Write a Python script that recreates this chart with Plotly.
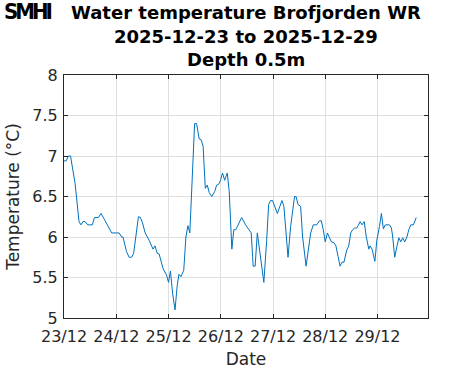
import pandas as pd
import plotly.graph_objects as go

# hours since 2025-12-23 00:00 and water temperature (°C)
hours = [0, 1, 2, 3, 5.1, 6.9, 7.8, 8.7, 9.7, 10.9, 13.0, 14.0, 15.8, 17.0, 18.9, 21.9, 25.3, 26.5,
         27.1, 28.7, 29.9, 31.1, 32.0, 34.2, 35.1, 36.0, 37.3, 39.1, 40.9, 41.8, 42.8, 43.7, 45.5,
         47.1, 48.0, 48.9, 49.9, 51.0, 52.0, 52.8, 53.7, 55.0, 56.0, 56.9, 57.8, 60.0, 60.9, 62.1,
         63.0, 63.9, 64.9, 65.8, 66.7, 67.9, 69.2, 70.1, 71.0, 71.9, 72.8, 73.8, 75.0, 75.9, 77.1,
         78.0, 78.9, 79.8, 81.6, 83.4, 86.0, 86.9, 87.8, 88.8, 90.0, 91.8, 93.1, 94.0, 94.9, 95.8,
         98.0, 100.1, 101.0, 102.9, 104.1, 105.9, 106.6, 107.5, 108.7, 109.6, 111.2, 112.1, 113.3,
         114.5, 116.1, 117.3, 118.2, 119.1, 120.0, 121.0, 121.9, 122.8, 124.0, 124.9, 125.9, 126.8,
         127.7, 128.6, 129.9, 130.8, 131.7, 132.6, 133.5, 134.4, 135.1, 136.0, 136.9, 137.9, 138.8,
         140.0, 140.6, 141.5, 142.8, 143.7, 144.9, 145.8, 146.7, 147.6, 149.5, 150.4, 151.0, 151.9,
         152.9, 153.8, 154.7, 155.6, 156.5, 157.5, 158.4, 159.3, 160.5, 161.8]
temps = [6.94, 6.94, 7.0, 7.0, 6.66, 6.19, 6.15, 6.19, 6.19, 6.15, 6.15, 6.24, 6.24, 6.29, 6.20, 6.05, 6.05, 6.0,
         6.0, 5.82, 5.75, 5.75, 5.80, 6.25, 6.24, 6.18, 6.05, 5.96, 5.85, 5.89, 5.80, 5.79, 5.61,
         5.53, 5.44, 5.58, 5.30, 5.10, 5.40, 5.54, 5.51, 5.59, 6.0, 6.14, 6.05, 7.40, 7.40, 7.21,
         7.20, 7.12, 6.60, 6.64, 6.55, 6.50, 6.56, 6.64, 6.65, 6.70, 6.79, 6.70, 6.79, 6.56, 5.85,
         6.09, 6.09, 6.14, 6.24, 6.15, 6.05, 5.64, 5.64, 6.05, 5.80, 5.44, 5.96, 6.40, 6.45, 6.45,
         6.29, 6.45, 6.38, 5.75, 6.13, 6.50, 6.50, 6.40, 6.38, 6.0, 5.64, 5.80, 6.05,
         6.15, 6.15, 6.20, 6.20, 6.09, 5.94, 6.05, 6.0, 5.94, 5.93, 5.89, 5.76, 5.64,
         5.69, 5.69, 5.84, 5.89, 6.05, 6.09, 6.11, 6.11, 6.14, 6.19, 6.15, 6.19, 6.01,
         5.85, 5.89, 5.85, 5.70, 5.96, 6.13, 6.29, 6.10, 6.15, 6.15, 6.11, 6.0, 5.75,
         5.88, 5.99, 5.94, 5.99, 5.94, 6.0, 6.09, 6.15, 6.15, 6.24]

start = pd.Timestamp("2025-12-23 00:00")
x_end_hours = 167.2
tick_days = ["2025-12-23", "2025-12-24", "2025-12-25", "2025-12-26", "2025-12-27", "2025-12-28", "2025-12-29"]
tick_text = ["23/12", "24/12", "25/12", "26/12", "27/12", "28/12", "29/12"]
y_ticks = [5, 5.5, 6, 6.5, 7, 7.5, 8]
y_tick_text = ["5", "5.5", "6", "6.5", "7", "7.5", "8"]
title_lines = ["Water temperature Brofjorden WR", "2025-12-23 to 2025-12-29", "Depth 0.5m"]

times = start + pd.to_timedelta(hours, unit="h")

fig = go.Figure()
fig.add_trace(go.Scatter(x=times, y=temps, mode="lines",
                         line=dict(color="#0072BD", width=1), hoverinfo="skip"))

FONT = "DejaVu Sans"
axis_common = dict(showline=True, linecolor="#262626", linewidth=1, mirror="allticks",
                   ticks="inside", ticklen=4, tickcolor="#262626", automargin=False,
                   showgrid=True, gridcolor="#dfdfdf", gridwidth=1, zeroline=False,
                   tickfont=dict(family=FONT, size=16, color="#262626"))

fig.update_layout(
    width=471, height=371,
    margin=dict(l=64, r=43, t=75, b=53),
    paper_bgcolor="white", plot_bgcolor="white",
    showlegend=False,
    xaxis=dict(axis_common, type="date",
               range=[start, start + pd.Timedelta(hours=x_end_hours)],
               tickvals=tick_days, ticktext=tick_text, ticklabelstandoff=4,
               title=dict(text="Date", font=dict(family=FONT, size=17, color="#262626"), standoff=7)),
    yaxis=dict(axis_common, range=[5, 8], tickvals=y_ticks, ticktext=y_tick_text, ticklabelstandoff=2,
               title=dict(text="Temperature (°C)", font=dict(family=FONT, size=17, color="#262626"), standoff=8)),
)

# title lines (pixel centres from top; plot area bottom=318, height=243)
for line, py in zip(title_lines, [12.5, 36.5, 59]):
    fig.add_annotation(text="<b>" + line + "</b>", xref="paper", yref="paper",
                       x=0.5, y=(318 - py) / 243, xanchor="center", yanchor="middle",
                       showarrow=False, font=dict(family=FONT, size=18, color="black"))

fig.add_annotation(text="<b><span style='letter-spacing:-3px'>SMHI</span></b>", xref="paper", yref="paper",
                   x=-0.17, y=1.321, xanchor="left", yanchor="top", showarrow=False,
                   font=dict(family="DejaVu Sans Condensed", size=22, color="black"))

fig.write_html("out.html", config={"displayModeBar": False},
               post_script="document.body.style.margin='0px';")
